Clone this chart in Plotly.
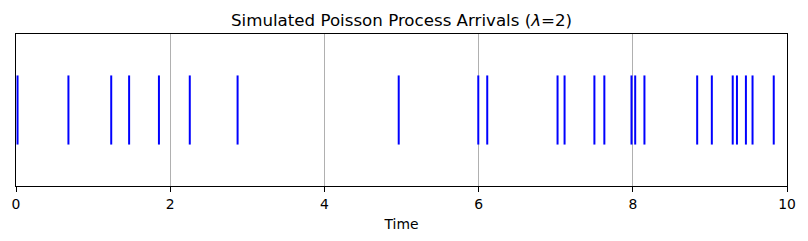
import plotly.graph_objects as go

arrival_times = [0.02, 0.68, 1.235, 1.467, 1.854, 2.254, 2.874, 4.964, 5.996, 6.112,
                 7.024, 7.115, 7.502, 7.631, 7.983, 8.031, 8.151, 8.835, 9.025,
                 9.296, 9.351, 9.467, 9.553, 9.828]
line_offset = 1.0
line_length = 1.0
x_ticks = [0, 2, 4, 6, 8, 10]

xs, ys = [], []
for t in arrival_times:
    xs += [t, t, None]
    ys += [line_offset - line_length / 2, line_offset + line_length / 2, None]

fig = go.Figure()
fig.add_trace(go.Scatter(x=xs, y=ys, mode="lines",
                         line=dict(color="blue", width=2), hoverinfo="skip",
                         showlegend=False))

fig.update_layout(
    width=808, height=241,
    margin=dict(l=14, r=19, t=34, b=53),
    plot_bgcolor="white", paper_bgcolor="white",
    font=dict(family="DejaVu Sans", size=13.9, color="black"),
    title=dict(text="Simulated Poisson Process Arrivals (<i>λ</i>=2)",
               x=0.497, xanchor="center", y=1 - 20 / 241, yanchor="middle",
               yref="container", font=dict(size=16.67, color="black")),
)
fig.update_xaxes(range=[0, 10], tickvals=x_ticks, ticktext=[str(v) for v in x_ticks],
                 showgrid=True, gridcolor="#b0b0b0", gridwidth=1,
                 showline=True, linecolor="black", linewidth=1, mirror=True,
                 ticks="outside", ticklen=5, tickcolor="black", tickwidth=1,
                 zeroline=False,
                 title=dict(text="Time", standoff=8, font=dict(size=13.9)),
                 tickfont=dict(size=13.9))
fig.update_yaxes(range=[-0.1, 2.1], showticklabels=False, showgrid=False,
                 showline=True, linecolor="black", linewidth=1, mirror=True,
                 ticks="", zeroline=False)

fig.write_html("out.html")
